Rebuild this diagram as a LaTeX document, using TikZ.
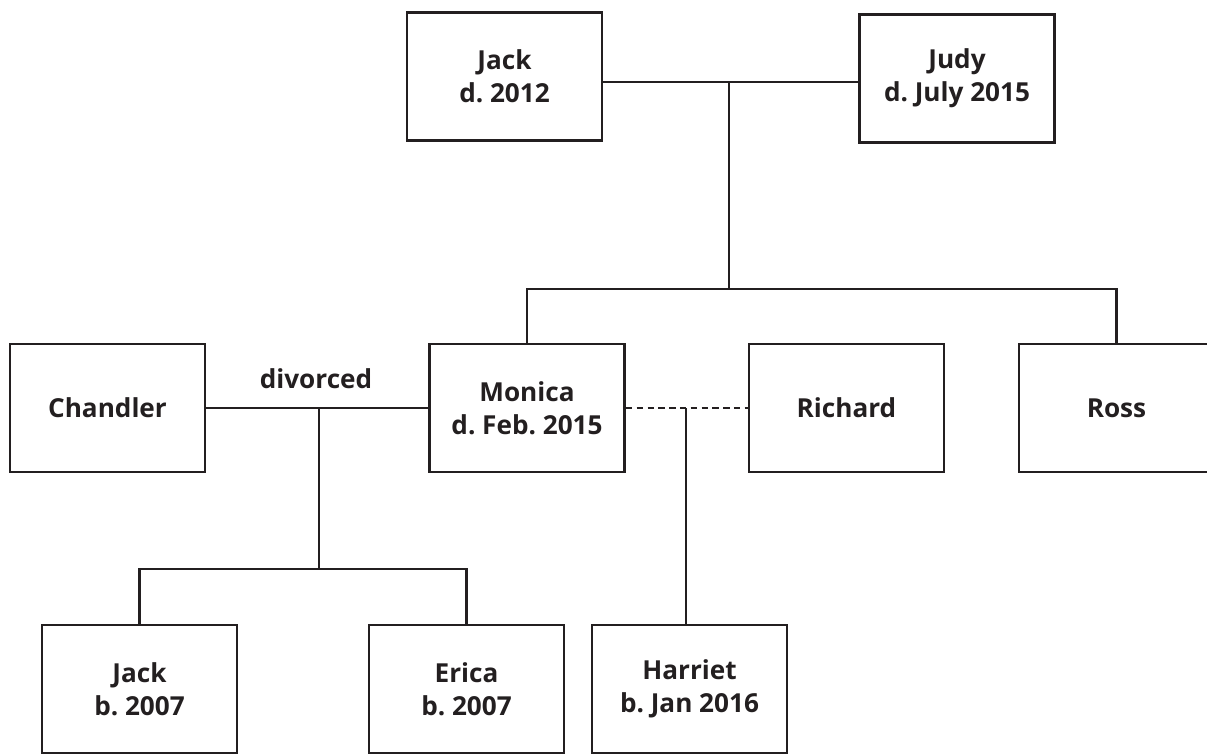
\documentclass[tikz,border=0pt]{standalone}
\usepackage{fontspec}
\setmainfont{Open Sans}
\frenchspacing
\definecolor{inkgray}{RGB}{35,31,32}

\begin{document}
\begin{tikzpicture}[x=0.25mm, y=-0.25mm,
  person/.style={draw=inkgray, line width=0.7mm, minimum width=48.75mm, minimum height=32mm,
    inner sep=0pt, align=center, text=inkgray, font=\bfseries\fontsize{18.6}{23.4}\selectfont},
  tag/.style={text=inkgray, inner sep=0pt, font=\bfseries\fontsize{18.6}{23.4}\selectfont},
  link/.style={draw=inkgray, line width=0.65mm},
  affair/.style={link, dash pattern=on 1.6mm off 1.1mm}]
  \useasboundingbox (0,0) rectangle (1207,754);

  % Grandparents
  \node[person] (jack) at (504.5, 76.5) {Jack\\d. 2012};
  \node[person] (judy) at (957, 78.5) {Judy\\d. July 2015};

  % Children and partners
  \node[person] (chandler) at (107.5, 408) {Chandler};
  \node[person] (monica) at (527, 408) {Monica\\d. Feb. 2015};
  \node[person] (richard) at (846.5, 408) {Richard};
  \node[person] (ross) at (1116.5, 408) {Ross};

  % Grandchildren
  \node[person] (jackjr) at (139.5, 689) {Jack\\b. 2007};
  \node[person] (erica) at (466.5, 689) {Erica\\b. 2007};
  \node[person] (harriet) at (689.5, 689) {Harriet\\b. Jan 2016};

  % Marriage of Jack and Judy
  \coordinate (wed) at (729, 82);
  \coordinate (sibs) at (729, 289);
  \draw[link] (jack.east |- wed) -- (judy.west |- wed);
  \draw[link] (wed) -- (sibs);
  \draw[link] (monica.north) |- (sibs) -| (ross.north);

  % Chandler and Monica
  \coordinate (split) at (319, 408);
  \coordinate (twins) at (319, 569);
  \draw[link] (chandler) -- (monica);
  \node[tag, anchor=base] (divorced) at (316, 388) {divorced};
  \draw[link] (split) -- (twins);
  \draw[link] (jackjr.north) |- (twins) -| (erica.north);

  % Monica and Richard
  \coordinate (fling) at (686, 408);
  \draw[affair] (monica) -- (richard);
  \draw[link] (fling) -- (fling |- harriet.north);
\end{tikzpicture}
\end{document}
